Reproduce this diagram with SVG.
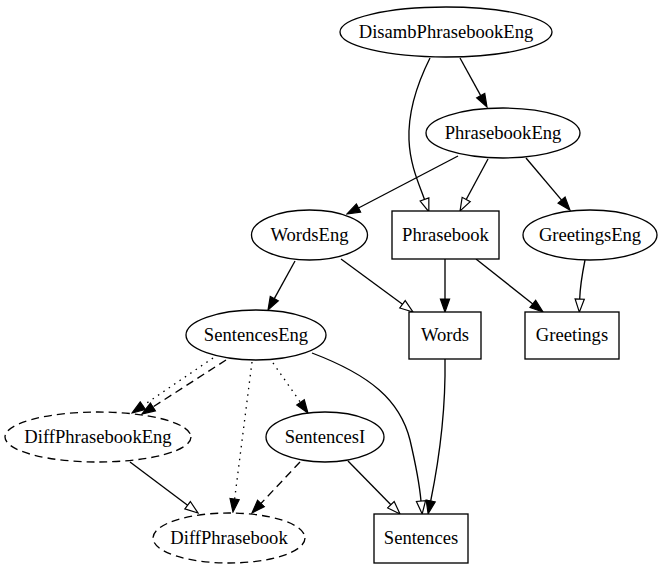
<svg xmlns="http://www.w3.org/2000/svg" width="666" height="570" viewBox="0 0 666 570">
<style>
  .n ellipse, .n rect { fill: #fff; stroke: #000; stroke-width: 1.33; }
  .n.dashed ellipse { stroke-dasharray: 8,5; }
  .n text { font-family: "Liberation Serif", "Times New Roman", serif; font-size: 18.6px; text-anchor: middle; fill: #000; }
  .e path { fill: none; stroke: #000; stroke-width: 1.33; }
  .e path.dash { stroke-dasharray: 8,5; }
  .e path.dot { stroke-dasharray: 1.5,5; }
  .e path.f { marker-end: url(#af); }
  .e path.o { marker-end: url(#ao); }
</style>
<defs>
  <marker id="af" viewBox="-1 -1 15 12" refX="0" refY="5" markerWidth="15" markerHeight="12" markerUnits="userSpaceOnUse" orient="auto">
    <path d="M0,0.4 L13,5 L0,9.6 Z" fill="#000" stroke="#000" stroke-width="1.2" stroke-dasharray="none"/>
  </marker>
  <marker id="ao" viewBox="-1 -1 15 12" refX="0" refY="5" markerWidth="15" markerHeight="12" markerUnits="userSpaceOnUse" orient="auto">
    <path d="M0,0.4 L13,5 L0,9.6 Z" fill="#fff" stroke="#000" stroke-width="1.2" stroke-dasharray="none"/>
  </marker>
</defs>
<rect width="666" height="570" fill="#fff"/>
<g id="edges" class="e">
  <path class="f" d="M460,58 L480.7,95.6"/>
  <path class="o" d="M430,58 C415,88 408,115 409,140 C410,165 419,184 424.5,199.5"/>
  <path class="o" d="M488,159 L466.2,199.5"/>
  <path class="f" d="M458,156 L358.5,208"/>
  <path class="f" d="M526,158 L561.6,200.1"/>
  <path class="f" d="M295,261 L274.3,298.6"/>
  <path class="o" d="M341,259 L402.5,304.3"/>
  <path class="f" d="M445,259 L445,299"/>
  <path class="f" d="M476,259 L532.8,303.9"/>
  <path class="o" d="M585,260 C582,275 580,288 579.7,299.1"/>
  <path class="o" d="M312,353 C370,375 400,400 410,440 C417,470 420,490 421,501"/>
  <path class="f" d="M445,359 C446,420 437,470 430.7,501"/>
  <path class="o" d="M348,461 L390.9,504.7"/>
  <path class="f dash" d="M300,462 L260.9,503.5"/>
  <path class="f dot" d="M213,358 L142.8,405.7"/>
  <path class="f dash" d="M226,360 L152.9,407"/>
  <path class="f dot" d="M252,362 L234.6,499.1"/>
  <path class="f dot" d="M273,363 L300.5,402.4"/>
  <path class="o" d="M130,462 L187.6,505.2"/>
</g>
<g id="DisambPhrasebookEng" class="n">
  <ellipse cx="446" cy="32" rx="106" ry="25"/>
  <text x="446" y="38">DisambPhrasebookEng</text>
</g>
<g id="PhrasebookEng" class="n">
  <ellipse cx="503" cy="133" rx="77" ry="25"/>
  <text x="503" y="139">PhrasebookEng</text>
</g>
<g id="WordsEng" class="n">
  <ellipse cx="309.5" cy="235" rx="58" ry="25"/>
  <text x="309.5" y="241">WordsEng</text>
</g>
<g id="Phrasebook" class="n">
  <rect x="392" y="211" width="107" height="48"/>
  <text x="445.5" y="241">Phrasebook</text>
</g>
<g id="GreetingsEng" class="n">
  <ellipse cx="590" cy="235" rx="67" ry="25"/>
  <text x="590" y="241">GreetingsEng</text>
</g>
<g id="SentencesEng" class="n">
  <ellipse cx="256" cy="335" rx="70" ry="25"/>
  <text x="256" y="341">SentencesEng</text>
</g>
<g id="Words" class="n">
  <rect x="409" y="312" width="72" height="47"/>
  <text x="445" y="341">Words</text>
</g>
<g id="Greetings" class="n">
  <rect x="525" y="312" width="94" height="47"/>
  <text x="572" y="341">Greetings</text>
</g>
<g id="DiffPhrasebookEng" class="n dashed">
  <ellipse cx="98" cy="437" rx="93" ry="25"/>
  <text x="98" y="443">DiffPhrasebookEng</text>
</g>
<g id="SentencesI" class="n">
  <ellipse cx="325" cy="437" rx="59" ry="25"/>
  <text x="325" y="443">SentencesI</text>
</g>
<g id="DiffPhrasebook" class="n dashed">
  <ellipse cx="229" cy="538" rx="76" ry="25"/>
  <text x="229" y="544">DiffPhrasebook</text>
</g>
<g id="Sentences" class="n">
  <rect x="374" y="514" width="94" height="49"/>
  <text x="421" y="544">Sentences</text>
</g>
</svg>
